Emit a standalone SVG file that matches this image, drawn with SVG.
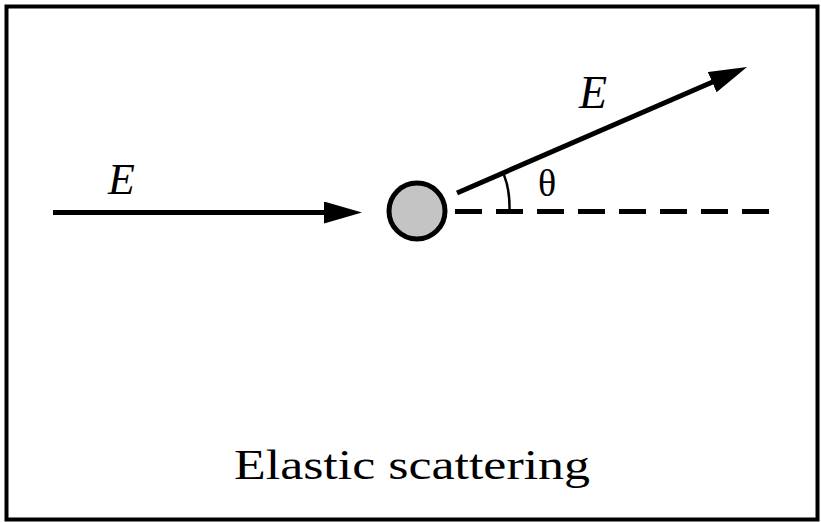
<svg xmlns="http://www.w3.org/2000/svg" width="821" height="522" viewBox="0 0 821 522">
  <style>
    .arrow { stroke: #000; stroke-width: 5; fill: none; }
    .lbl { fill: #000; }
    .it { font-style: italic; }
  </style>
  <defs>
    <marker id="ah" viewBox="0 0 38 22" markerWidth="38" markerHeight="22" refX="18" refY="11" orient="auto" markerUnits="userSpaceOnUse">
      <path d="M0,0 L38,11 L0,22 z" fill="#000"/>
    </marker>
  </defs>
  <rect x="6.5" y="6.5" width="811" height="513" fill="#fff" stroke="#000" stroke-width="4"/>
  <g id="connectors">
    <line id="incident" class="arrow" x1="53" y1="212.5" x2="342" y2="212.5" marker-end="url(#ah)"/>
    <line id="scattered" class="arrow" x1="457" y1="193" x2="728.7" y2="75" marker-end="url(#ah)"/>
    <line id="axis" x1="455" y1="211.5" x2="772" y2="211.5" stroke="#000" stroke-width="5" stroke-dasharray="27 14"/>
    <path id="angle-arc" d="M504,175 Q510,190 509.5,211" fill="none" stroke="#000" stroke-width="2.5"/>
  </g>
  <g id="target">
    <circle cx="417" cy="211" r="28" fill="#c4c4c4" stroke="#000" stroke-width="5"/>
  </g>
  <g id="labels" font-family="'Liberation Serif', 'Times New Roman', serif">
    <text class="lbl it" x="108" y="194" font-size="44">E</text>
    <text class="lbl it" x="579" y="108" font-size="46">E</text>
    <text class="lbl" x="538" y="196" font-size="38">θ</text>
    <text class="lbl" x="234" y="479" font-size="42" textLength="356" lengthAdjust="spacingAndGlyphs">Elastic scattering</text>
  </g>
</svg>
